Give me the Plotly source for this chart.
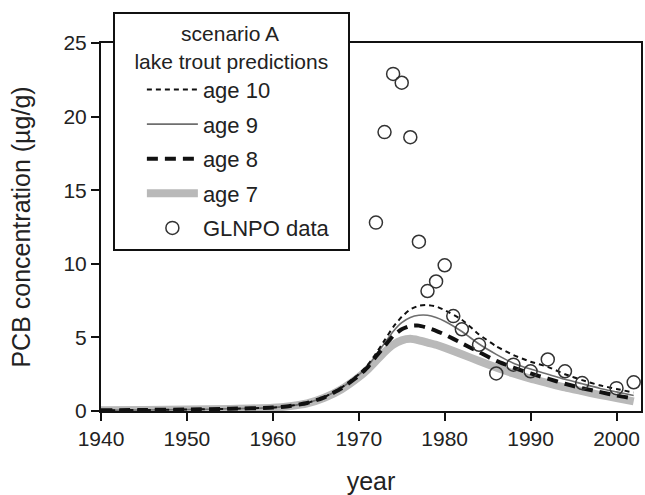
import plotly.graph_objects as go

years = [1940, 1945, 1950, 1955, 1960, 1962, 1964, 1966, 1968, 1970, 1971, 1972, 1973,
         1974, 1975, 1976, 1977, 1978, 1979, 1980, 1982, 1984, 1986, 1988, 1990, 1992,
         1994, 1996, 1998, 2000, 2002]
age10 = [0.05, 0.07, 0.10, 0.15, 0.23, 0.35, 0.55, 0.95, 1.60, 2.50, 3.10, 3.90, 4.80,
         5.70, 6.40, 6.90, 7.15, 7.20, 7.10, 6.85, 6.20, 5.20, 4.40, 3.80, 3.35, 3.00,
         2.50, 2.10, 1.75, 1.50, 1.25]
age9 = [0.05, 0.07, 0.10, 0.15, 0.23, 0.35, 0.55, 0.95, 1.58, 2.45, 3.00, 3.80, 4.60,
        5.40, 6.00, 6.35, 6.50, 6.50, 6.35, 6.10, 5.40, 4.55, 3.85, 3.25, 2.85, 2.50,
        2.15, 1.85, 1.55, 1.30, 1.05]
age8 = [0.05, 0.07, 0.10, 0.15, 0.23, 0.34, 0.54, 0.93, 1.55, 2.40, 2.95, 3.70, 4.40,
        5.10, 5.55, 5.78, 5.80, 5.65, 5.45, 5.20, 4.60, 4.00, 3.40, 2.95, 2.55, 2.20,
        1.85, 1.55, 1.30, 1.05, 0.85]
age7 = [0.05, 0.07, 0.10, 0.14, 0.22, 0.33, 0.52, 0.90, 1.48, 2.30, 2.80, 3.40, 4.00,
        4.50, 4.80, 4.90, 4.80, 4.65, 4.50, 4.30, 3.85, 3.40, 2.95, 2.55, 2.20, 1.90,
        1.60, 1.35, 1.10, 0.88, 0.65]

glnpo_years = [1972, 1973, 1974, 1975, 1976, 1977, 1978, 1979, 1980, 1981, 1982, 1984,
               1986, 1988, 1990, 1992, 1994, 1996, 2000, 2002]
glnpo_pcb = [12.8, 18.95, 22.9, 22.3, 18.6, 11.5, 8.15, 8.8, 9.9, 6.45, 5.55, 4.5,
             2.55, 3.15, 2.7, 3.5, 2.7, 1.9, 1.55, 1.95]

x_ticks = [1940, 1950, 1960, 1970, 1980, 1990, 2000]
y_ticks = [0, 5, 10, 15, 20, 25]

FONT = "Liberation Sans, Arial, sans-serif"
TXT = "#222222"
NB = "&nbsp;"

fig = go.Figure()
fig.add_trace(go.Scatter(x=years, y=age7, mode="lines", name="age 7",
                         line=dict(color="#b9b9b9", width=8, shape="spline", smoothing=0.5),
                         legendrank=4, legendgroup="g4"))
fig.add_trace(go.Scatter(x=years, y=age9, mode="lines", name="age 9",
                         line=dict(color="#6e6e6e", width=1.6, shape="spline", smoothing=0.5),
                         legendrank=2, legendgroup="g2"))
fig.add_trace(go.Scatter(x=years, y=age8, mode="lines", name="age 8",
                         line=dict(color="#111111", width=4, dash="11px,7px", shape="spline", smoothing=0.5),
                         legendrank=3, legendgroup="g3"))
fig.add_trace(go.Scatter(x=years, y=age10, mode="lines", name="age 10",
                         line=dict(color="#111111", width=2, dash="5px,4px", shape="spline", smoothing=0.5),
                         legendrank=1, legendgroup="g1"))
fig.add_trace(go.Scatter(x=glnpo_years, y=glnpo_pcb, mode="markers", name="GLNPO data",
                         marker=dict(symbol="circle-open", size=13, color="#333333",
                                     line=dict(width=1.5, color="#333333")),
                         legendrank=5, legendgroup="g5"))

legend_title = NB * 11 + "scenario A<br>" + NB * 3 + "lake trout predictions" + NB * 3

fig.update_layout(
    width=645, height=495,
    margin=dict(l=101, r=2, t=43, b=83),
    paper_bgcolor="white", plot_bgcolor="white",
    font=dict(family=FONT, size=21, color=TXT),
    showlegend=True,
    legend=dict(
        x=0.022, y=1.084, xanchor="left", yanchor="top",
        bgcolor="white", bordercolor="#111111", borderwidth=2,
        font=dict(family=FONT, size=22, color=TXT),
        title=dict(text=legend_title, side="top",
                   font=dict(family=FONT, size=21, color=TXT)),
        traceorder="grouped", tracegroupgap=3, itemwidth=51, indentation=27,
    ),
    xaxis=dict(
        range=[1940, 2002.85], tickvals=x_ticks, ticktext=[str(v) for v in x_ticks],
        showgrid=False, zeroline=False, showline=True, linecolor="#111111", linewidth=2,
        mirror=True, ticks="outside", ticklen=8, tickwidth=2, tickcolor="#111111",
        tickfont=dict(family=FONT, size=21, color=TXT),
        title=dict(text="year", font=dict(family=FONT, size=25, color=TXT), standoff=25),
    ),
    yaxis=dict(
        range=[0, 25], tickvals=y_ticks, ticktext=[str(v) for v in y_ticks],
        showgrid=False, zeroline=False, showline=True, linecolor="#111111", linewidth=2,
        mirror=True, ticks="outside", ticklen=8, tickwidth=2, tickcolor="#111111",
        tickfont=dict(family=FONT, size=21, color=TXT),
        title=dict(text="PCB concentration (µg/g)", font=dict(family=FONT, size=25, color=TXT), standoff=26),
    ),
)

fig.write_html("out.html", config={"displayModeBar": False},
               post_script="document.body.style.margin='0';")
